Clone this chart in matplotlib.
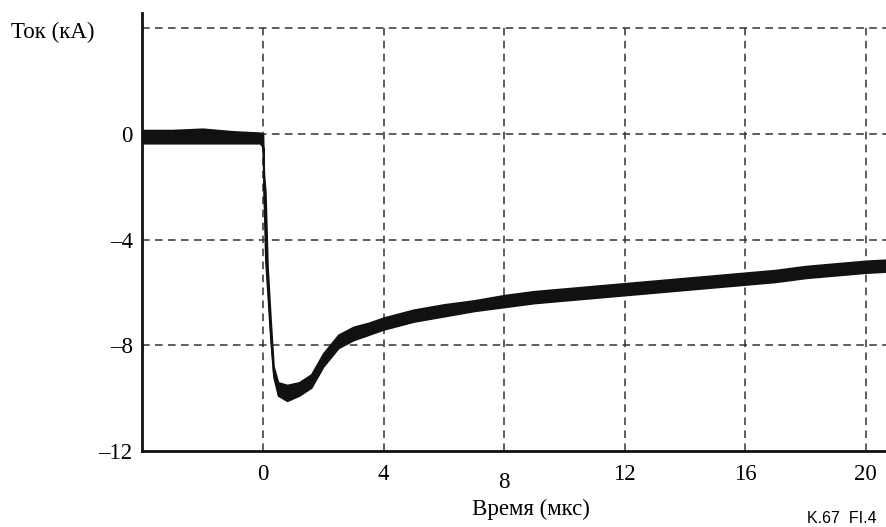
import matplotlib
matplotlib.use("Agg")
import matplotlib.pyplot as plt
import matplotlib.transforms as mtransforms

# Current trace: time (us), upper and lower edge of the noisy band (kA)
time_us = [-4.0, -3.0, -2.0, -1.0, -0.1, 0.0, 0.03, 0.08, 0.15, 0.25, 0.35, 0.5, 0.8, 1.2,
           1.6, 2.0, 2.5, 3.0, 3.5, 4.0, 5.0, 6.0, 7.0, 8.0, 9.0, 10.0, 11.0, 12.0, 13.0,
           14.0, 15.0, 16.0, 17.0, 18.0, 19.0, 20.0, 20.8]
current_hi = [0.15, 0.15, 0.2, 0.1, 0.05, 0.0, -1.5, -2.2, -5.0, -7.0, -8.8, -9.4, -9.5, -9.4,
              -9.1, -8.3, -7.6, -7.3, -7.15, -6.95, -6.65, -6.45, -6.3, -6.1, -5.95, -5.85,
              -5.75, -5.65, -5.55, -5.45, -5.35, -5.25, -5.15, -5.0, -4.9, -4.8, -4.75]
current_lo = [-0.35, -0.35, -0.35, -0.35, -0.35, -0.5, -2.5, -4.8, -6.0, -7.8, -9.2, -9.9,
              -10.1, -9.9, -9.6, -8.8, -8.1, -7.8, -7.6, -7.4, -7.1, -6.9, -6.7, -6.55, -6.4,
              -6.3, -6.2, -6.1, -6.0, -5.9, -5.8, -5.7, -5.6, -5.45, -5.35, -5.25, -5.2]

x_ticks = [0, 4, 8, 12, 16, 20]
x_labels = ["0", "4", "8", "12", "16", "20"]
y_ticks = [0, -4, -8, -12]
y_labels = ["0", "–4", "–8", "–12"]
y_grid = [4, 0, -4, -8]

plt.rcParams['font.family'] = ['Liberation Serif', 'DejaVu Serif']
FS = 16.5

fig = plt.figure(figsize=(8.87, 5.27), dpi=100)
ax = fig.add_axes([0.1606, 0.1442, 0.8394, 0.8311])

ax.set_xlim(-4, 20.71)
ax.set_ylim(-12, 4.58)

# grid (dashed, stops at +4)
ax.vlines(x_ticks, -12, 4, colors="#333333", linestyles=(0, (5, 3.5)), linewidth=1.1, zorder=1)
ax.hlines(y_grid, -4, 20.71, colors="#333333", linestyles=(0, (5, 3.5)), linewidth=1.1, zorder=1)

# noisy trace
ax.fill_between(time_us, current_lo, current_hi, color="#111111", linewidth=1.2,
                edgecolor="#111111", zorder=3)
mid = [(a + b) / 2 for a, b in zip(current_hi, current_lo)]
ax.plot(time_us, mid, color="#111111", linewidth=1.0, zorder=3)

for s in ["top", "right"]:
    ax.spines[s].set_visible(False)
for s in ["left", "bottom"]:
    ax.spines[s].set_linewidth(2.0)
    ax.spines[s].set_color("#111111")

ax.set_yticks(y_ticks)
ax.set_yticklabels(y_labels, fontsize=FS)
ax.tick_params(axis="y", length=0, pad=7)
ax.set_xticks([])

# x tick labels (the "8" sits lower in the original)
for xv, lab in zip(x_ticks, x_labels):
    base_px = 488 if lab == "8" else 480
    ax.text(xv, 0, lab, ha="center", va="baseline", fontsize=FS,
            transform=mtransforms.blended_transform_factory(ax.transData, fig.transFigure)
            + mtransforms.Affine2D().translate(0, (527 - base_px)))

fig.text(11 / 887, 1 - 38 / 527, "Ток (кА)", ha="left", va="baseline", fontsize=FS)
fig.text(531 / 887, 1 - 515 / 527, "Время (мкс)", ha="center", va="baseline", fontsize=FS)
fig.text(877 / 887, 1 - 523 / 527, "K.67  FI.4", ha="right", va="baseline", fontsize=11.5,
         family=["Liberation Sans", "DejaVu Sans"])

fig.savefig("out.png", dpi=100)
